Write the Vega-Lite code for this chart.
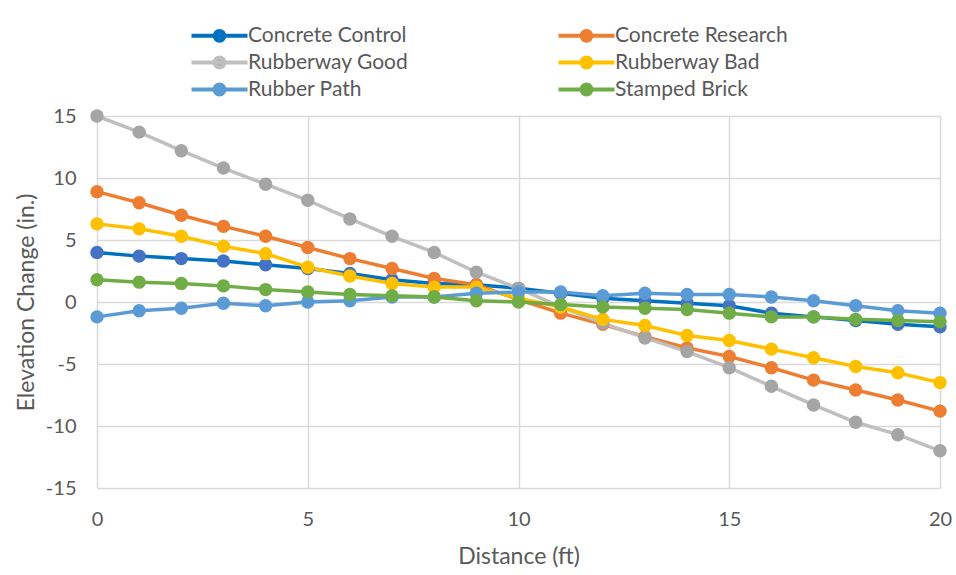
{
  "$schema": "https://vega.github.io/schema/vega-lite/v6.json",
  "width": 843,
  "height": 372,
  "autosize": {"type": "none"},
  "padding": {"left": 97, "top": 116, "right": 16, "bottom": 87},
  "background": "white",
  "config": {
    "view": {"stroke": null},
    "font": "Lato",
    "axis": {"labelFont": "Lato", "titleFont": "Lato", "labelColor": "#595959", "titleColor": "#595959", "labelFontSize": 20, "titleFontSize": 23, "titleFontWeight": "normal", "gridColor": "#d9d9d9", "gridWidth": 1.5, "domain": false, "ticks": false, "labelFlush": false}
  },
  "data": {"values": [
    {"s":"Concrete Control","d":0,"v":4.0},{"s":"Concrete Control","d":1,"v":3.7},{"s":"Concrete Control","d":2,"v":3.5},{"s":"Concrete Control","d":3,"v":3.3},{"s":"Concrete Control","d":4,"v":3.0},{"s":"Concrete Control","d":5,"v":2.7},{"s":"Concrete Control","d":6,"v":2.3},{"s":"Concrete Control","d":7,"v":1.8},{"s":"Concrete Control","d":8,"v":1.5},{"s":"Concrete Control","d":9,"v":1.4},{"s":"Concrete Control","d":10,"v":1.1},{"s":"Concrete Control","d":11,"v":0.7},{"s":"Concrete Control","d":12,"v":0.3},{"s":"Concrete Control","d":13,"v":0.1},{"s":"Concrete Control","d":14,"v":-0.1},{"s":"Concrete Control","d":15,"v":-0.3},{"s":"Concrete Control","d":16,"v":-0.9},{"s":"Concrete Control","d":17,"v":-1.2},{"s":"Concrete Control","d":18,"v":-1.5},{"s":"Concrete Control","d":19,"v":-1.8},{"s":"Concrete Control","d":20,"v":-2.0},
    {"s":"Concrete Research","d":0,"v":8.9},{"s":"Concrete Research","d":1,"v":8.0},{"s":"Concrete Research","d":2,"v":7.0},{"s":"Concrete Research","d":3,"v":6.1},{"s":"Concrete Research","d":4,"v":5.3},{"s":"Concrete Research","d":5,"v":4.4},{"s":"Concrete Research","d":6,"v":3.5},{"s":"Concrete Research","d":7,"v":2.7},{"s":"Concrete Research","d":8,"v":1.9},{"s":"Concrete Research","d":9,"v":1.4},{"s":"Concrete Research","d":10,"v":0.2},{"s":"Concrete Research","d":11,"v":-0.9},{"s":"Concrete Research","d":12,"v":-1.8},{"s":"Concrete Research","d":13,"v":-2.8},{"s":"Concrete Research","d":14,"v":-3.7},{"s":"Concrete Research","d":15,"v":-4.4},{"s":"Concrete Research","d":16,"v":-5.3},{"s":"Concrete Research","d":17,"v":-6.3},{"s":"Concrete Research","d":18,"v":-7.1},{"s":"Concrete Research","d":19,"v":-7.9},{"s":"Concrete Research","d":20,"v":-8.8},
    {"s":"Rubberway Good","d":0,"v":15.0},{"s":"Rubberway Good","d":1,"v":13.7},{"s":"Rubberway Good","d":2,"v":12.2},{"s":"Rubberway Good","d":3,"v":10.8},{"s":"Rubberway Good","d":4,"v":9.5},{"s":"Rubberway Good","d":5,"v":8.2},{"s":"Rubberway Good","d":6,"v":6.7},{"s":"Rubberway Good","d":7,"v":5.3},{"s":"Rubberway Good","d":8,"v":4.0},{"s":"Rubberway Good","d":9,"v":2.4},{"s":"Rubberway Good","d":10,"v":1.1},{"s":"Rubberway Good","d":11,"v":-0.4},{"s":"Rubberway Good","d":12,"v":-1.7},{"s":"Rubberway Good","d":13,"v":-2.9},{"s":"Rubberway Good","d":14,"v":-4.0},{"s":"Rubberway Good","d":15,"v":-5.3},{"s":"Rubberway Good","d":16,"v":-6.8},{"s":"Rubberway Good","d":17,"v":-8.3},{"s":"Rubberway Good","d":18,"v":-9.7},{"s":"Rubberway Good","d":19,"v":-10.7},{"s":"Rubberway Good","d":20,"v":-12.0},
    {"s":"Rubberway Bad","d":0,"v":6.3},{"s":"Rubberway Bad","d":1,"v":5.9},{"s":"Rubberway Bad","d":2,"v":5.3},{"s":"Rubberway Bad","d":3,"v":4.5},{"s":"Rubberway Bad","d":4,"v":3.9},{"s":"Rubberway Bad","d":5,"v":2.8},{"s":"Rubberway Bad","d":6,"v":2.1},{"s":"Rubberway Bad","d":7,"v":1.5},{"s":"Rubberway Bad","d":8,"v":1.2},{"s":"Rubberway Bad","d":9,"v":1.2},{"s":"Rubberway Bad","d":10,"v":0.3},{"s":"Rubberway Bad","d":11,"v":-0.4},{"s":"Rubberway Bad","d":12,"v":-1.4},{"s":"Rubberway Bad","d":13,"v":-1.9},{"s":"Rubberway Bad","d":14,"v":-2.7},{"s":"Rubberway Bad","d":15,"v":-3.1},{"s":"Rubberway Bad","d":16,"v":-3.8},{"s":"Rubberway Bad","d":17,"v":-4.5},{"s":"Rubberway Bad","d":18,"v":-5.2},{"s":"Rubberway Bad","d":19,"v":-5.7},{"s":"Rubberway Bad","d":20,"v":-6.5},
    {"s":"Rubber Path","d":0,"v":-1.2},{"s":"Rubber Path","d":1,"v":-0.7},{"s":"Rubber Path","d":2,"v":-0.5},{"s":"Rubber Path","d":3,"v":-0.1},{"s":"Rubber Path","d":4,"v":-0.3},{"s":"Rubber Path","d":5,"v":0.0},{"s":"Rubber Path","d":6,"v":0.1},{"s":"Rubber Path","d":7,"v":0.4},{"s":"Rubber Path","d":8,"v":0.4},{"s":"Rubber Path","d":9,"v":0.7},{"s":"Rubber Path","d":10,"v":0.8},{"s":"Rubber Path","d":11,"v":0.8},{"s":"Rubber Path","d":12,"v":0.5},{"s":"Rubber Path","d":13,"v":0.7},{"s":"Rubber Path","d":14,"v":0.6},{"s":"Rubber Path","d":15,"v":0.6},{"s":"Rubber Path","d":16,"v":0.4},{"s":"Rubber Path","d":17,"v":0.1},{"s":"Rubber Path","d":18,"v":-0.3},{"s":"Rubber Path","d":19,"v":-0.7},{"s":"Rubber Path","d":20,"v":-0.9},
    {"s":"Stamped Brick","d":0,"v":1.8},{"s":"Stamped Brick","d":1,"v":1.6},{"s":"Stamped Brick","d":2,"v":1.5},{"s":"Stamped Brick","d":3,"v":1.3},{"s":"Stamped Brick","d":4,"v":1.0},{"s":"Stamped Brick","d":5,"v":0.8},{"s":"Stamped Brick","d":6,"v":0.6},{"s":"Stamped Brick","d":7,"v":0.5},{"s":"Stamped Brick","d":8,"v":0.4},{"s":"Stamped Brick","d":9,"v":0.1},{"s":"Stamped Brick","d":10,"v":0.0},{"s":"Stamped Brick","d":11,"v":-0.2},{"s":"Stamped Brick","d":12,"v":-0.4},{"s":"Stamped Brick","d":13,"v":-0.5},{"s":"Stamped Brick","d":14,"v":-0.6},{"s":"Stamped Brick","d":15,"v":-0.9},{"s":"Stamped Brick","d":16,"v":-1.2},{"s":"Stamped Brick","d":17,"v":-1.2},{"s":"Stamped Brick","d":18,"v":-1.4},{"s":"Stamped Brick","d":19,"v":-1.5},{"s":"Stamped Brick","d":20,"v":-1.6}
  ]},
  "encoding": {
    "x": {"field": "d", "type": "quantitative", "scale": {"domain": [0, 20], "nice": false}, "axis": {"values": [0,5,10,15,20], "title": "Distance (ft)", "labelPadding": 21, "titlePadding": 16}},
    "y": {"field": "v", "type": "quantitative", "scale": {"domain": [-15, 15], "nice": false}, "axis": {"values": [-15,-10,-5,0,5,10,15], "title": "Elevation Change (in.)", "labelPadding": 21, "titlePadding": 7, "labelExpr": "replace(datum.label, '\u2212', '-')"}}
  },
  "layer": [
    {
      "mark": {"type": "line"},
      "encoding": {
        "stroke": {"field": "s", "type": "nominal",
          "scale": {"domain": ["Concrete Control","Concrete Research","Rubberway Good","Rubberway Bad","Rubber Path","Stamped Brick"],
                    "range": ["#0070C0","#ED7D31","#BFBFBF","#FFC000","#5B9BD5","#70AD47"]},
          "legend": {"title": null, "orient": "none", "legendX": 112, "legendY": -91, "columns": 2, "direction": "horizontal",
            "padding": 0, "rowPadding": 0, "columnPadding": 141, "symbolSize": 196, "symbolStrokeWidth": 4,
            "symbolType": "M-4,0H4M0.7,0A0.7,0.7 0 1,1 -0.7,0A0.7,0.7 0 1,1 0.7,0Z",
            "labelOffset": 18, "labelFontSize": 21, "labelColor": "#595959", "labelFont": "Lato", "labelLimit": 300, "symbolOpacity": 1}},
        "strokeWidth": {"field": "s", "type": "nominal", "legend": null,
          "scale": {"domain": ["Stamped Brick","Rubber Path","Rubberway Bad","Rubberway Good","Concrete Research","Concrete Control"],
                    "range": [3.5,3.5,3.5,5,5,5]}}
      }
    },
    {
      "mark": {"type": "point", "filled": true, "opacity": 1, "size": 180, "shape": "circle"},
      "encoding": {
        "fill": {"field": "s", "type": "nominal",
          "scale": {"domain": ["Concrete Control","Concrete Research","Rubberway Good","Rubberway Bad","Rubber Path","Stamped Brick"],
                    "range": ["#4472C4","#ED7D31","#A5A5A5","#FFC000","#5B9BD5","#70AD47"]},
          "legend": {"title": null, "orient": "none", "legendX": 112, "legendY": -91, "columns": 2, "direction": "horizontal",
            "padding": 0, "rowPadding": 0, "columnPadding": 141, "symbolSize": 196, "symbolStrokeWidth": 4,
            "symbolType": "M-4,0H4M0.7,0A0.7,0.7 0 1,1 -0.7,0A0.7,0.7 0 1,1 0.7,0Z",
            "labelOffset": 18, "labelFontSize": 21, "labelColor": "#595959", "labelFont": "Lato", "labelLimit": 300, "symbolOpacity": 1}}
      }
    }
  ]
}
